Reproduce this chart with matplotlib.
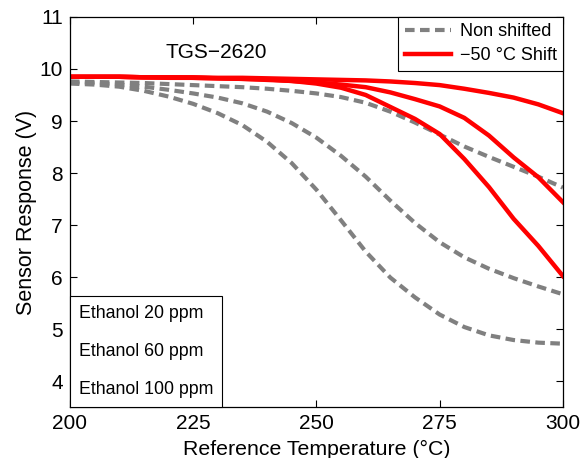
import numpy as np
import matplotlib.pyplot as plt
from matplotlib.lines import Line2D

plt.rcParams['font.family'] = ['Liberation Sans', 'DejaVu Sans']
plt.rcParams['font.size'] = 15

# reference temperature (C)
temp = [200, 205, 210, 215, 220, 225, 230, 235, 240, 245, 250,
        255, 260, 265, 270, 275, 280, 285, 290, 295, 300]

# non shifted responses (V)
gray_20 = [9.76, 9.75, 9.74, 9.73, 9.71, 9.69, 9.67, 9.65, 9.62, 9.58, 9.53,
           9.46, 9.35, 9.18, 8.97, 8.74, 8.51, 8.31, 8.12, 7.93, 7.72]
gray_60 = [9.74, 9.73, 9.70, 9.66, 9.60, 9.53, 9.45, 9.34, 9.18, 8.96, 8.68,
           8.33, 7.93, 7.47, 7.04, 6.67, 6.38, 6.16, 5.98, 5.82, 5.67]
gray_100 = [9.72, 9.70, 9.66, 9.58, 9.47, 9.33, 9.15, 8.92, 8.60, 8.19, 7.68,
            7.09, 6.49, 5.99, 5.61, 5.28, 5.04, 4.88, 4.79, 4.74, 4.72]

# -50 C shifted responses (V)
red_20 = [9.85, 9.85, 9.85, 9.84, 9.84, 9.84, 9.83, 9.83, 9.82, 9.81, 9.80,
          9.79, 9.78, 9.76, 9.73, 9.69, 9.62, 9.54, 9.45, 9.32, 9.15]
red_60 = [9.85, 9.85, 9.85, 9.84, 9.84, 9.83, 9.82, 9.81, 9.79, 9.77, 9.74,
          9.70, 9.65, 9.55, 9.42, 9.28, 9.06, 8.72, 8.30, 7.92, 7.44]
red_100 = [9.85, 9.85, 9.85, 9.84, 9.83, 9.83, 9.82, 9.81, 9.80, 9.77, 9.72,
           9.64, 9.50, 9.27, 9.04, 8.75, 8.27, 7.73, 7.12, 6.60, 6.02]

fig = plt.figure(figsize=(5.87, 4.58), dpi=100)
ax = fig.add_axes([0.119, 0.111, 0.840, 0.852])

gray = '#808080'
for ys in [gray_20, gray_60, gray_100]:
    ax.plot(temp, ys, color=gray, linewidth=3, dashes=(2.3, 1.3))
for ys in [red_20, red_60, red_100]:
    ax.plot(temp, ys, color='#ff0000', linewidth=3.2)

ax.set_xlim(200, 300)
ax.set_ylim(3.5, 11)
ax.set_xticks([200, 225, 250, 275, 300])
ax.set_yticks([4, 5, 6, 7, 8, 9, 10, 11])
ax.tick_params(direction='in', top=True, right=True, length=5, width=0.8,
               labelsize=15, pad=5)
for s in ax.spines.values():
    s.set_linewidth(0.9)

ax.set_xlabel('Reference Temperature (\u00b0C)', fontsize=15.3, labelpad=5)
ax.set_ylabel('Sensor Response (V)', fontsize=15.5, labelpad=2)

ax.text(0.194, 0.91, 'TGS\u22122620', transform=ax.transAxes, fontsize=15,
        va='center', ha='left')

h1 = Line2D([], [], color=gray, linewidth=3, dashes=(2.3, 1.3))
h2 = Line2D([], [], color='#ff0000', linewidth=3.2)
leg1 = ax.legend([h1, h2], ['Non shifted', '\u221250 \u00b0C Shift'],
                 loc='upper right',
                 borderaxespad=0, fancybox=False, edgecolor='black', framealpha=1,
                 fontsize=13, handlelength=2.6, handletextpad=0.45,
                 borderpad=0.35, labelspacing=0.4)
leg1.get_frame().set_linewidth(0.8)
ax.add_artist(leg1)

blank = [Line2D([], [], linestyle='none') for _ in range(3)]
leg2 = ax.legend(blank, ['Ethanol 20 ppm', 'Ethanol 60 ppm', 'Ethanol 100 ppm'],
                 loc='lower left', borderaxespad=0, fancybox=False,
                 edgecolor='black', framealpha=1, fontsize=12.8,
                 handlelength=0, handletextpad=0, labelspacing=1.2,
                 borderpad=0.5)
leg2.get_frame().set_linewidth(0.8)

fig.savefig('out.png', dpi=100)
